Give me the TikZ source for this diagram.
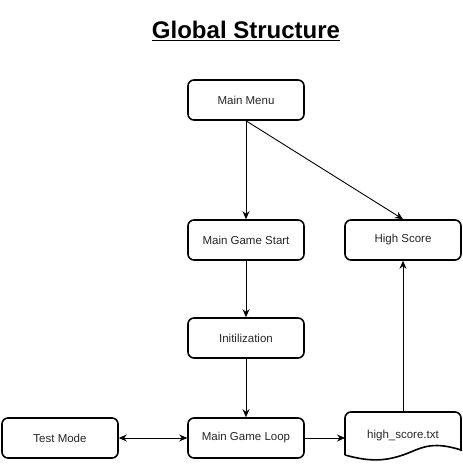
\documentclass[tikz,border=0pt]{standalone}
\usepackage{fontspec}
\setmainfont{Liberation Sans}
\usetikzlibrary{arrows.meta}
\begin{document}
\begin{tikzpicture}[x=1pt,y=-1pt,
  box/.style={draw=black,line width=1.6pt,rounded corners=6pt,minimum width=116pt,minimum height=40pt,inner sep=0pt,font=\fontsize{11.5}{13}\selectfont,text=black!85},
  conn/.style={draw=black,line width=0.9pt,-{Stealth[length=8pt,width=7pt]}},
  conn2/.style={draw=black,line width=0.9pt,{Stealth[length=8pt,width=7pt]}-{Stealth[length=8pt,width=7pt]}}]
\useasboundingbox (0,0) rectangle (463,464);
\node[font=\fontsize{24}{28}\selectfont\bfseries] (title) at (246,31) {\underline{Global Structure}};
\node[box] (menu) at (246,100) {Main Menu};
\node[box] (start) at (246,240) {Main Game Start};
\node[box] (hs) at (403,240) {High Score};
\node[box] (init) at (246,338) {Initilization};
\node[box] (loop) at (246,438) {Main Game Loop};
\node[box] (test) at (60,438) {Test Mode};
% document shape
\draw[line width=1.6pt,rounded corners=6pt] (345,455) -- (345,412) -- (461,412) -- (461,451);
\draw[line width=1.6pt] (461,450) .. controls (430,440) and (420,449) .. (403,455) .. controls (385,461) and (370,462) .. (345,455);
\coordinate (docleft) at (345,438);
\coordinate (doctop) at (403,412);
\node[font=\fontsize{11.5}{13}\selectfont,text=black!85] (doc) at (403,436) {high\_score.txt};
\draw[conn] (menu.south) -- (start.north);
\draw[conn] (menu.south) -- (hs.north);
\draw[conn] (start.south) -- (init.north);
\draw[conn] (init.south) -- (loop.north);
\draw[conn2] (test.east) -- (loop.west);
\draw[conn] (loop.east) -- (docleft);
\draw[conn] (doctop) -- (hs.south);
\end{tikzpicture}
\end{document}
